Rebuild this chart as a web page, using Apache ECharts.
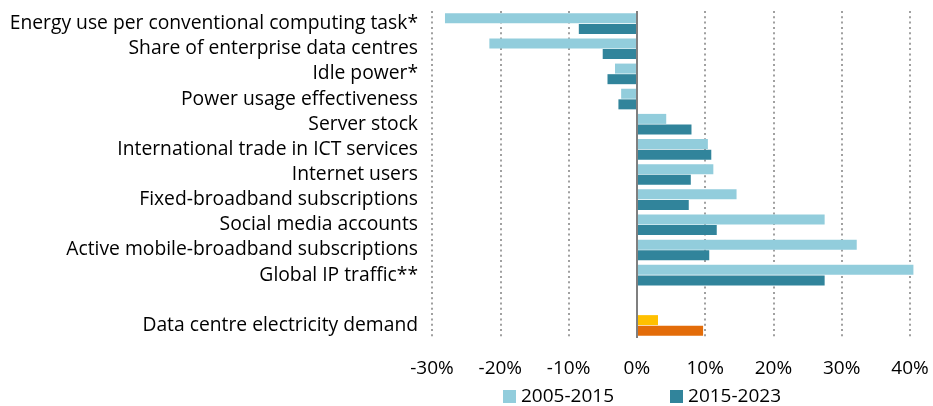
<!DOCTYPE html>
<html>
<head>
<meta charset="utf-8">
<script src="https://cdn.jsdelivr.net/npm/echarts@6/dist/echarts.min.js"></script>
<style>
  html, body { margin: 0; padding: 0; background: #fff; }
  #chart { width: 933px; height: 406px; }
</style>
</head>
<body>
<div id="chart"></div>
<script>
// categories top to bottom, blank row separates the last one
var categories = [
  'Energy use per conventional computing task*',
  'Share of enterprise data centres',
  'Idle power*',
  'Power usage effectiveness',
  'Server stock',
  'International trade in ICT services',
  'Internet users',
  'Fixed-broadband subscriptions',
  'Social media accounts',
  'Active mobile-broadband subscriptions',
  'Global IP traffic**',
  '',
  'Data centre electricity demand'
];
var growth2005 = [-28.1, -21.6, -3.2, -2.3, 4.3, 10.4, 11.2, 14.6, 27.5, 32.2, 40.5, null, 3.1];
var growth2015 = [-8.5, -5.0, -4.3, -2.7, 8.0, 10.9, 7.9, 7.6, 11.7, 10.6, 27.5, null, 9.7];
var seriesNames = ['2005-2015', '2015-2023'];
var tickValues = [-30, -20, -10, 0, 10, 20, 30, 40];

var lightBlue = '#92CDDC', darkBlue = '#31849B';
var yellow = '#FFC000', orange = '#E36C09';

function colour(arr, base, last) {
  return arr.map(function (v, i) {
    if (i === arr.length - 1) return { value: v, itemStyle: { color: last } };
    return v;
  });
}

var chart = echarts.init(document.getElementById('chart'));
var font = 'Open Sans';

chart.setOption({
  animation: false,
  textStyle: { fontFamily: font, color: '#000' },
  grid: { left: 432, right: 23, top: 11, bottom: 68 },
  legend: {
    top: 382,
    left: 498,
    itemWidth: 13,
    itemHeight: 13,
    itemGap: 56,
    icon: 'rect',
    textStyle: { fontSize: 19, fontFamily: font, color: '#000' },
    data: seriesNames
  },
  xAxis: {
    type: 'value',
    min: tickValues[0],
    max: tickValues[tickValues.length - 1],
    interval: 10,
    axisLine: { show: false },
    axisTick: { show: false },
    axisLabel: { formatter: '{value}%', fontSize: 19, color: '#000', margin: 21 },
    splitLine: { lineStyle: { color: '#a0a0a0', width: 2, type: [2, 3.3] } }
  },
  yAxis: {
    type: 'category',
    inverse: true,
    data: categories,
    axisLine: { show: false },
    axisTick: { show: false },
    axisLabel: { fontSize: 19.3, color: '#000', margin: 14, interval: 0 }
  },
  series: [
    {
      name: seriesNames[0],
      type: 'bar',
      clip: false,
      barWidth: 10,
      barGap: '6%',
      itemStyle: { color: lightBlue },
      data: colour(growth2005, lightBlue, yellow),
      markLine: {
        silent: true,
        symbol: 'none',
        label: { show: false },
        lineStyle: { color: '#7f7f7f', width: 2, type: 'solid' },
        data: [{ xAxis: 0 }]
      }
    },
    {
      name: seriesNames[1],
      type: 'bar',
      clip: false,
      barWidth: 10,
      itemStyle: { color: darkBlue },
      data: colour(growth2015, darkBlue, orange)
    }
  ]
});
</script>
</body>
</html>
